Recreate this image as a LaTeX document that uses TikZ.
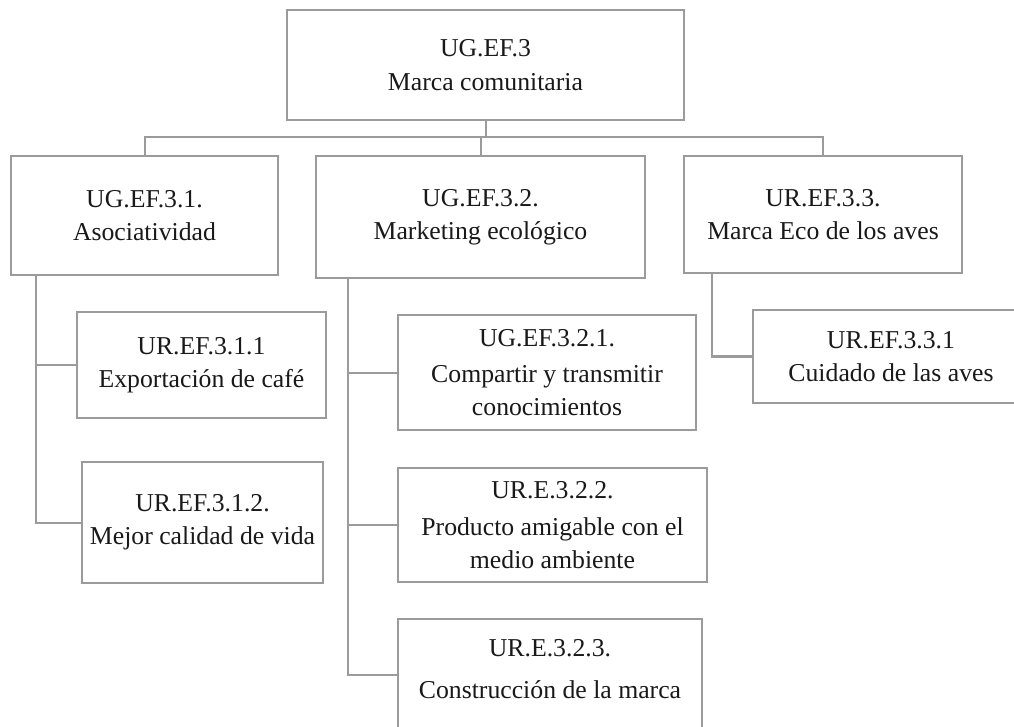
\documentclass[tikz,border=0pt]{standalone}
\usepackage{fontspec}
\setmainfont{Liberation Serif}
\definecolor{linegray}{RGB}{155,155,155}
\definecolor{txtcol}{RGB}{25,25,25}
\tikzset{
  box/.style={draw=linegray, line width=1.5pt, fill=white, anchor=north west,
    inner sep=0pt, align=center, text=txtcol,
    font=\fontsize{19.3pt}{25pt}\selectfont},
  conn/.style={draw=linegray, line width=1.5pt}
}
\begin{document}
\begin{tikzpicture}[x=0.75pt,y=-0.75pt]
\useasboundingbox (0,0) rectangle (1014,727);
\clip (0,0) rectangle (1014,727);
\fill[white] (0,0) rectangle (1014,727);

\coordinate (bus) at (0,137);
\coordinate (v1) at (36,0);
\coordinate (v2) at (348,0);
\coordinate (v3) at (712,0);

\node[box, minimum width={397*0.75pt}, minimum height={110*0.75pt}] (t) at (286,9) {UG.EF.3\\Marca comunitaria};
\node[box, minimum width={267*0.75pt}, minimum height={119*0.75pt}] (b1) at (10,155) {UG.EF.3.1.\\Asociatividad};
\node[box, minimum width={329*0.75pt}, minimum height={122*0.75pt}] (b2) at (315,155) {UG.EF.3.2.\\Marketing ecológico};
\node[box, minimum width={278*0.75pt}, minimum height={117*0.75pt}] (b3) at (683,155) {UR.EF.3.3.\\Marca Eco de los aves};
\node[box, minimum width={249*0.75pt}, minimum height={106*0.75pt}] (c11) at (76,311) {UR.EF.3.1.1\\Exportación de café};
\node[box, minimum width={241*0.75pt}, minimum height={121*0.75pt}] (c12) at (81,461) {UR.EF.3.1.2.\\Mejor calidad de vida};
\node[box, minimum width={298*0.75pt}, minimum height={115*0.75pt}] (c21) at (397,314) {UG.EF.3.2.1.\\[2pt]Compartir y transmitir\\conocimientos};
\node[box, minimum width={309*0.75pt}, minimum height={114*0.75pt}] (c22) at (397,467) {UR.E.3.2.2.\\[3pt]Producto amigable con el\\medio ambiente};
\node[box, minimum width={304*0.75pt}, minimum height={112*0.75pt}] (c23) at (397,618) {UR.E.3.2.3.\\[6pt]Construcción de la marca\\[-16pt]\mbox{}};
\node[box, minimum width={276*0.75pt}, minimum height={93*0.75pt}] (c31) at (752,309) {UR.EF.3.3.1\\Cuidado de las aves};

% top level
\draw[conn] (t.south) -- (t.south |- bus);
\draw[conn] (b1.north) |- (b3.north |- bus) -- (b3.north);
\draw[conn] (b2.north) -- (b2.north |- bus);

% second level
\draw[conn] (v1 |- b1.south) |- (c11.west);
\draw[conn] (v1 |- b1.south) |- (c12.west);
\draw[conn] (v2 |- b2.south) |- (c21.west);
\draw[conn] (v2 |- b2.south) |- (c22.west);
\draw[conn] (v2 |- b2.south) |- (c23.west);
\draw[conn] (v3 |- b3.south) |- (c31.west);
\end{tikzpicture}
\end{document}
